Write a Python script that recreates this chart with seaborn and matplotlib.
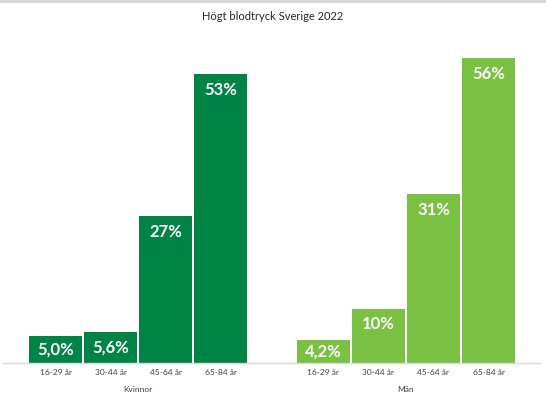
import matplotlib
matplotlib.use("Agg")
import matplotlib.pyplot as plt
from matplotlib.lines import Line2D
import seaborn as sns
import pandas as pd

# data
age_groups = ["16-29 år", "30-44 år", "45-64 år", "65-84 år"]
kvinnor = [5.0, 5.6, 27, 53]
man = [4.2, 10, 31, 56]
kvinnor_labels = ["5,0%", "5,6%", "27%", "53%"]
man_labels = ["4,2%", "10%", "31%", "56%"]
groups = ["Kvinnor", "Män"]
colors = {"Kvinnor": "#008445", "Män": "#7AC143"}

group_gap = 1.87  # extra space between the two groups, in bar slots

rows = []
for i, (a, v, lab) in enumerate(zip(age_groups, kvinnor, kvinnor_labels)):
    rows.append({"pos": i, "age": a, "value": v, "label": lab, "kon": "Kvinnor"})
for i, (a, v, lab) in enumerate(zip(age_groups, man, man_labels)):
    rows.append({"pos": 3 + group_gap + i, "age": a, "value": v, "label": lab, "kon": "Män"})
df = pd.DataFrame(rows)

sns.set_style("white")
plt.rcParams["font.family"] = ["Lato", "DejaVu Sans"]

fig = plt.figure(figsize=(5.46, 3.97), dpi=100)
ax = fig.add_axes([3 / 546, 34 / 397, 537 / 546, 327 / 397])

sns.barplot(data=df, x="pos", y="value", hue="kon", palette=colors, native_scale=True,
            dodge=False, width=53 / 55, legend=False, ax=ax, linewidth=0, saturation=1)

ax.set_ylim(0, 60)
ax.set_xlim(-0.955, df["pos"].max() + 0.936)

# value labels inside the bar tops
offset = 2.9
for _, r in df.iterrows():
    y = max(r["value"] - offset, r["value"] / 2)
    ax.text(r["pos"], y, r["label"], ha="center", va="center", color="white",
            fontsize=12, fontweight="bold")

ax.set_xticks(df["pos"])
ax.set_xticklabels(df["age"], fontsize=6, color="#404040")
ax.tick_params(axis="x", length=0, pad=4)
ax.set_yticks([])
ax.set_xlabel("")
ax.set_ylabel("")
for s in ["top", "right", "left"]:
    ax.spines[s].set_visible(False)
ax.spines["bottom"].set_color("#D9D9D9")
ax.spines["bottom"].set_linewidth(1)

# group labels under each set of bars
for g in groups:
    center = df.loc[df["kon"] == g, "pos"].mean()
    ax.annotate(g, xy=(center, 0), xycoords=("data", "axes fraction"),
                xytext=(0, -27), textcoords="offset pixels",
                ha="center", va="center", fontsize=6, color="#404040")

fig.suptitle("Högt blodtryck Sverige 2022", y=1 - 17 / 397, va="center",
             fontsize=8, color="#262626")

# thin grey band along the top edge
fig.add_artist(Line2D([0, 1], [1 - 1 / 397, 1 - 1 / 397], transform=fig.transFigure,
                      color="#D4D4D4", linewidth=2))

fig.savefig("out.png", dpi=100)
